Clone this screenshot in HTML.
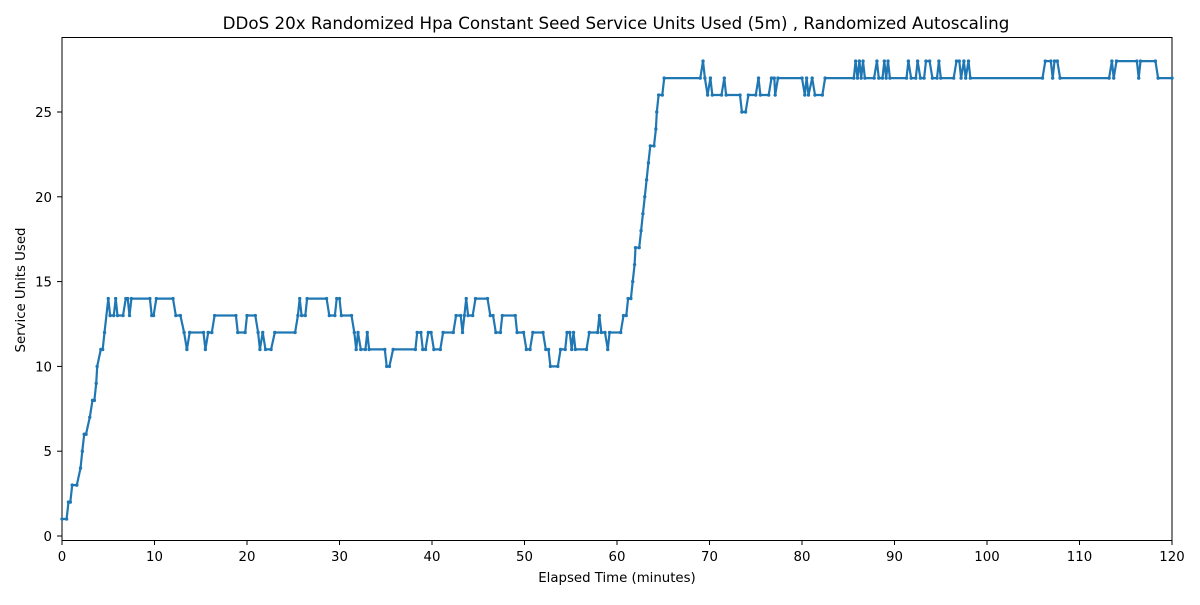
<!DOCTYPE html>
<html><head><meta charset="utf-8"><style>
body{margin:0;background:#fff;font-family:"Liberation Sans","DejaVu Sans",sans-serif}
svg text{font-family:"DejaVu Sans","Liberation Sans",sans-serif}
</style></head><body>
<svg id="chart" width="1200" height="600">
<text x="616" y="29" text-anchor="middle" font-size="16.7">DDoS 20x Randomized Hpa Constant Seed Service Units Used (5m) , Randomized Autoscaling</text>
<g id="axes"></g>
<rect x="62" y="37.5" width="1110" height="503" fill="none" stroke="#000" stroke-width="1"/>
<text x="617" y="582" text-anchor="middle" font-size="13.3">Elapsed Time (minutes)</text>
<text transform="translate(25,290) rotate(-90)" text-anchor="middle" font-size="13.3">Service Units Used</text>
</svg>
<script>
const times=[0,0.5,0.7,0.9,1.1,1.6,2.0,2.2,2.4,2.6,3.0,3.3,3.5,3.7,3.8,4.2,4.4,4.6,5.0,5.2,5.6,5.8,6.0,6.6,6.9,7.1,7.3,7.5,9.5,9.7,9.9,10.2,12,12.3,12.8,13.2,13.5,13.8,15.3,15.5,15.8,16.2,16.5,18.8,19.0,19.8,20.0,20.9,21.2,21.4,21.7,22.0,22.6,23.0,25.2,25.5,25.7,25.9,26.3,26.5,28.6,28.9,29.5,29.7,30.0,30.2,31.3,31.6,31.8,32.0,32.3,32.8,33.0,33.2,34.9,35.1,35.4,35.8,38.2,38.4,38.8,39.0,39.3,39.6,39.9,40.2,40.9,41.2,42.3,42.6,43.1,43.3,43.5,43.7,43.9,44.4,44.7,46.0,46.3,46.6,46.9,47.4,47.6,49.0,49.2,49.9,50.2,50.6,50.9,52.0,52.3,52.6,52.8,53.6,53.9,54.4,54.6,54.9,55.1,55.3,55.5,56.7,57.0,57.9,58.1,58.3,58.7,59.0,59.2,60.4,60.7,61.0,61.2,61.5,61.7,61.9,62.0,62.4,62.6,62.8,63.0,63.2,63.4,63.6,64.0,64.2,64.3,64.5,64.9,65.1,69.0,69.3,69.5,69.8,70.1,70.3,71.3,71.6,71.8,73.3,73.5,73.9,74.2,75.0,75.3,75.5,76.4,76.7,77.0,77.1,77.4,80.0,80.3,80.5,80.7,81.1,81.4,82.2,82.5,85.6,85.8,86.0,86.2,86.4,86.6,86.8,87.8,88.1,88.3,88.7,88.9,89.1,89.3,89.5,91.3,91.5,91.8,92.3,92.5,92.8,93.2,93.4,93.8,94.1,94.6,94.8,95.0,96.4,96.7,97.0,97.2,97.5,97.7,98.0,98.2,106.0,106.3,106.9,107.1,107.3,107.6,107.9,113.2,113.5,113.7,114.0,116.2,116.4,116.6,118.2,118.5,120];
const values=[1,1,2,2,3,3,4,5,6,6,7,8,8,9,10,11,11,12,14,13,13,14,13,13,14,14,13,14,14,13,13,14,14,13,13,12,11,12,12,11,12,12,13,13,12,12,13,13,12,11,12,11,11,12,12,13,14,13,13,14,14,13,13,14,14,13,13,12,11,12,11,11,12,11,11,10,10,11,11,12,12,11,11,12,12,11,11,12,12,13,13,12,13,14,13,13,14,14,13,13,12,12,13,13,12,12,11,11,12,12,11,11,10,10,11,11,12,12,11,12,11,11,12,12,13,12,12,11,12,12,13,13,14,14,15,16,17,17,18,19,20,21,22,23,23,24,25,26,26,27,27,28,27,26,27,26,26,27,26,26,25,25,26,26,27,26,26,27,27,26,27,27,26,27,26,27,26,26,27,27,28,27,28,27,28,27,27,28,27,27,28,27,28,27,27,28,27,27,28,27,27,28,28,27,27,28,27,27,28,28,27,28,27,28,27,27,28,28,27,28,28,27,27,28,27,28,28,27,28,28,27,27];
const xTicks=[0,10,20,30,40,50,60,70,80,90,100,110,120];
const yTicks=[0,5,10,15,20,25];
const NS="http://www.w3.org/2000/svg";
const x=t=>62+t*(1110/120);
const y=v=>536-v*(424/25);
const svg=document.getElementById('chart'), ax=document.getElementById('axes');
function mk(tag,attrs,parent){const e=document.createElementNS(NS,tag);for(const k in attrs)e.setAttribute(k,attrs[k]);(parent||svg).appendChild(e);return e;}
xTicks.forEach(t=>{
  const l=mk('line',{x1:x(t),x2:x(t),y1:540.5,y2:545,stroke:'#000'},ax);
  
  
  const tx=mk('text',{x:x(t),y:561,'text-anchor':'middle','font-size':13.3},ax);tx.textContent=t;
  
  
});
yTicks.forEach(v=>{
  const l=mk('line',{x1:57,x2:62,y1:y(v),y2:y(v),stroke:'#000'},ax);
  
  
  const tx=mk('text',{x:52,y:y(v)+5,'text-anchor':'end','font-size':13.3},ax);tx.textContent=v;
  
  
});
const pts=times.map((t,i)=>x(t).toFixed(1)+','+y(values[i]).toFixed(1)).join(' ');
const line=mk('polyline',{points:pts,fill:'none',stroke:'#1f77b4','stroke-width':2.2,'stroke-linejoin':'round'});


times.forEach((t,i)=>{
  const c=mk('circle',{cx:x(t),cy:y(values[i]),r:1.7,fill:'#1f77b4'});
  
  
});
</script>
</body></html>
